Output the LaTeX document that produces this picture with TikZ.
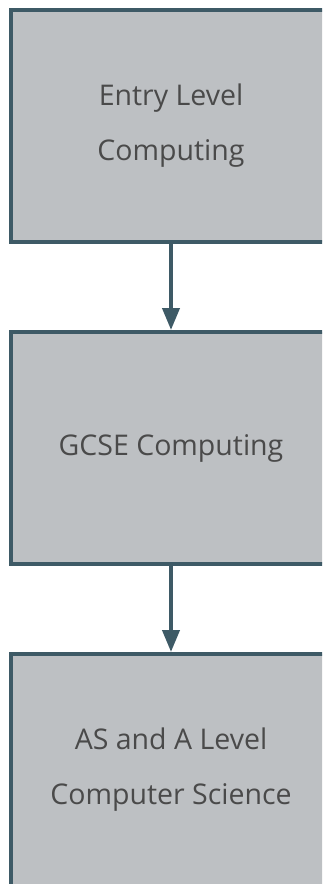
\documentclass[tikz,border=0pt]{standalone}
\usepackage{fontspec}
\setmainfont{Open Sans}
\usepackage{tikz}
\usetikzlibrary{arrows.meta}

\definecolor{boxfill}{HTML}{BDC0C3}
\definecolor{boxline}{HTML}{3E5A66}
\definecolor{boxtext}{HTML}{4A4A4A}

\begin{document}
\begin{tikzpicture}[x=1pt,y=1pt,
    course/.style={draw=boxline,fill=boxfill,line width=4pt,
      minimum width=320pt,minimum height=232pt,align=center,
      text=boxtext,font=\fontsize{28.5}{55}\selectfont},
    flow/.style={draw=boxline,line width=4pt,
      -{Triangle[length=22pt,width=17pt]}}]
      \useasboundingbox (0,0) rectangle (322,-884);
      \clip (0,0) rectangle (322,-884);

      \node [course] (entry) at (171,-126) {Entry Level\\Computing};
      \node [course] (gcse) at (171,-448) {GCSE Computing};
      \node [course] (alevel) at (171,-770) {AS and A Level\\Computer Science};

      \draw [flow] (entry) -- (gcse);
      \draw [flow] (gcse) -- (alevel);

    \end{tikzpicture}
\end{document}
